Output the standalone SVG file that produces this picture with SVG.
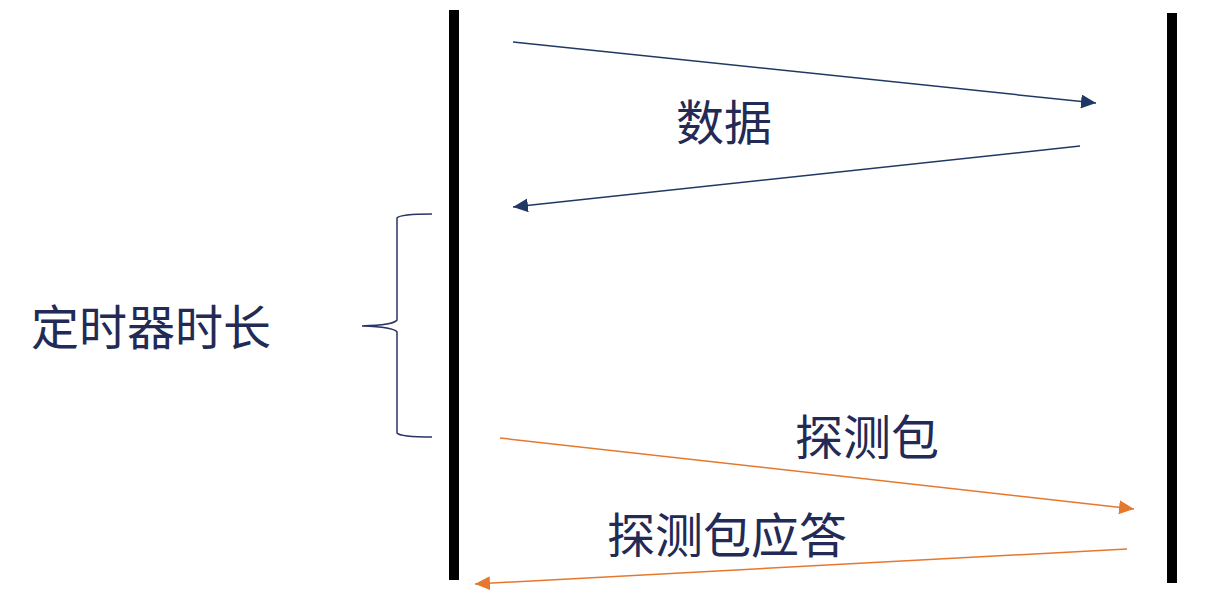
<svg xmlns="http://www.w3.org/2000/svg" width="1222" height="600" viewBox="0 0 1222 600">
<style>
.lbl{font-family:"Noto Sans CJK SC","Noto Sans",sans-serif;font-size:48px;fill:#222a55}
.bar{fill:#000}
.blue{stroke:#203864;stroke-width:1.5;fill:none}
.orange{stroke:#e6782e;stroke-width:1.5;fill:none}
</style>
<defs>
<marker id="ab" markerUnits="userSpaceOnUse" markerWidth="16" markerHeight="14" refX="15" refY="7" orient="auto"><path d="M0,0 L15,7 L0,14 Z" fill="#203864"/></marker>
<marker id="ao" markerUnits="userSpaceOnUse" markerWidth="16" markerHeight="14" refX="15" refY="7" orient="auto"><path d="M0,0 L15,7 L0,14 Z" fill="#e6782e"/></marker>
</defs>
<g id="left-line"><rect class="bar" x="449" y="10" width="10" height="570"/></g>
<g id="right-line"><rect class="bar" x="1167" y="13" width="10" height="570"/></g>
<g id="brace"><path d="M432,214 Q400,214 397,218 L397,320 Q394,325 362,326 Q394,327 397,332 L397,433 Q400,437 432,437" stroke="#2a3466" stroke-width="1.5" fill="none"/></g>
<g id="connectors">
<line class="blue" x1="513" y1="42" x2="1096" y2="103" marker-end="url(#ab)"/>
<line class="blue" x1="1080" y1="146" x2="513" y2="207" marker-end="url(#ab)"/>
<line class="orange" x1="500" y1="438" x2="1134" y2="509" marker-end="url(#ao)"/>
<line class="orange" x1="1127" y1="549" x2="475" y2="584" marker-end="url(#ao)"/>
</g>
<g id="label-data"><text class="lbl" x="724" y="140" text-anchor="middle">数据</text></g>
<g id="label-timer"><text class="lbl" x="151" y="345" text-anchor="middle">定时器时长</text></g>
<g id="label-probe"><text class="lbl" x="867" y="455" text-anchor="middle">探测包</text></g>
<g id="label-reply"><text class="lbl" x="727" y="553" text-anchor="middle">探测包应答</text></g>
</svg>
